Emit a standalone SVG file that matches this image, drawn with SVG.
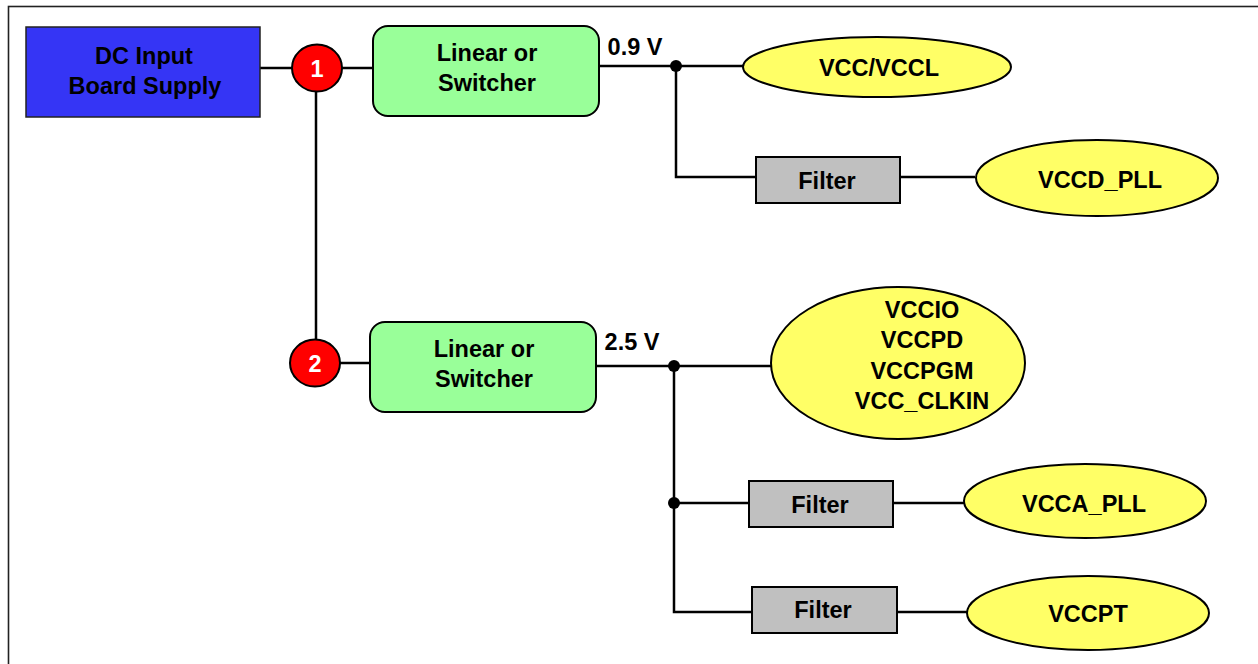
<svg xmlns="http://www.w3.org/2000/svg" width="1258" height="664" viewBox="0 0 1258 664">
<style>
text{font-family:"Liberation Sans",Arial,sans-serif;font-weight:bold;font-size:23.5px;text-anchor:middle;fill:#000}
.w{fill:#fff}
.ln{stroke:#000;stroke-width:2.5;fill:none}
.src{fill:#3535f5;stroke:#222;stroke-width:1.5}
.reg{fill:#99ff99;stroke:#000;stroke-width:2}
.flt{fill:#c0c0c0;stroke:#000;stroke-width:2}
.load{fill:#ffff66;stroke:#000;stroke-width:2}
.num{fill:#ff0000;stroke:#000;stroke-width:2}
.dot{fill:#000}
</style>
<rect x="8.5" y="6.5" width="1270" height="680" fill="#fff" stroke="#222" stroke-width="1.6"/>
<g id="connectors">
<path class="ln" d="M260 68H292M342 68H373M316 91V340M340 363H370"/>
<path class="ln" d="M599 66H743M676 66V177H756M900 177H975"/>
<path class="ln" d="M596 366H772M674 366V612H752M674 503H749M893 503H964M897 612H967"/>
<circle class="dot" cx="676" cy="66" r="6"/>
<circle class="dot" cx="674" cy="366" r="6"/>
<circle class="dot" cx="674" cy="503" r="6"/>
</g>
<g id="dc-input">
<rect class="src" x="26" y="27" width="234" height="90"/>
<text x="144" y="64">DC Input</text>
<text x="145" y="94">Board Supply</text>
</g>
<g id="node-1">
<ellipse class="num" cx="317" cy="68" rx="25" ry="23.5"/>
<text class="w" x="317" y="77">1</text>
</g>
<g id="node-2">
<ellipse class="num" cx="315" cy="363" rx="25" ry="23.5"/>
<text class="w" x="315" y="372">2</text>
</g>
<g id="reg-1">
<rect class="reg" x="373" y="26" width="226" height="90" rx="15"/>
<text x="487" y="61">Linear or</text>
<text x="487" y="91">Switcher</text>
</g>
<g id="reg-2">
<rect class="reg" x="370" y="322" width="226" height="90" rx="15"/>
<text x="484" y="357">Linear or</text>
<text x="484" y="387">Switcher</text>
</g>
<g id="label-09v"><text x="635" y="55">0.9 V</text></g>
<g id="label-25v"><text x="632" y="350">2.5 V</text></g>
<g id="vcc-vccl">
<ellipse class="load" cx="877" cy="67" rx="134" ry="30"/>
<text x="879" y="76">VCC/VCCL</text>
</g>
<g id="filter-1">
<rect class="flt" x="756" y="157" width="144" height="46"/>
<text x="827" y="189">Filter</text>
</g>
<g id="vccd-pll">
<ellipse class="load" cx="1097" cy="178" rx="121" ry="38"/>
<text x="1100" y="188">VCCD_PLL</text>
</g>
<g id="vccio-group">
<ellipse class="load" cx="898" cy="363" rx="127" ry="76"/>
<text x="922" y="318">VCCIO</text>
<text x="922" y="348">VCCPD</text>
<text x="922" y="379">VCCPGM</text>
<text x="922" y="409">VCC_CLKIN</text>
</g>
<g id="filter-2">
<rect class="flt" x="749" y="481" width="144" height="46"/>
<text x="820" y="513">Filter</text>
</g>
<g id="vcca-pll">
<ellipse class="load" cx="1085" cy="501" rx="121" ry="37"/>
<text x="1084" y="512">VCCA_PLL</text>
</g>
<g id="filter-3">
<rect class="flt" x="752" y="587" width="145" height="46"/>
<text x="823" y="618">Filter</text>
</g>
<g id="vccpt">
<ellipse class="load" cx="1088" cy="613" rx="121" ry="37"/>
<text x="1088" y="622">VCCPT</text>
</g>
</svg>
